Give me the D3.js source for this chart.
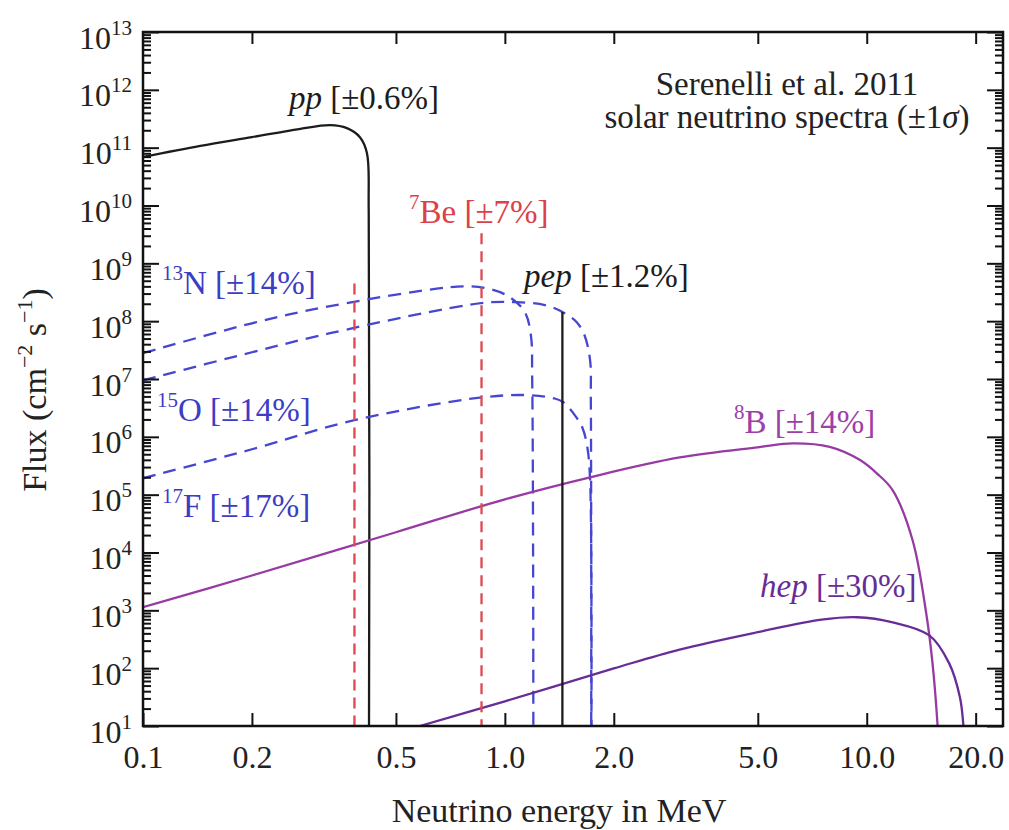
<!DOCTYPE html>
<html>
<head>
<meta charset="utf-8">
<script src="https://cdn.jsdelivr.net/npm/d3@7"></script>
<style>
body { margin: 0; background: #fff; }
text { font-family: 'Liberation Serif', 'DejaVu Serif', serif; }
</style>
</head>
<body>
<script>
'use strict'

// spectra: energy in MeV, flux in cm^-2 s^-1
const ppE = [0.1, 0.144, 0.2, 0.27, 0.329, 0.366, 0.3976, 0.4157, 0.4205, 0.421]
const ppF = [6.9e10, 1.07e11, 1.52e11, 2.1e11, 2.45e11, 2.18e11, 1.52e11, 8.1e10, 8e9, 1]

const n13E = [0.1, 0.2, 0.329, 0.766, 0.909, 1.032, 1.136, 1.18, 1.19, 1.199]
const n13F = [2.8e7, 9.2e7, 1.82e8, 4.0e8, 3.6e8, 2.6e8, 1.43e8, 5.7e7, 9.5e6, 1]

const o15E = [0.1, 0.2, 0.329, 0.86, 1.077, 1.29, 1.447, 1.58, 1.66, 1.72, 1.728, 1.732]
const o15F = [9.5e6, 2.9e7, 6.2e7, 2.05e8, 2.13e8, 1.9e8, 1.43e8, 9.6e7, 5.7e7, 2.1e7, 4.3e6, 1]

const f17E = [0.1, 0.2, 0.384, 0.862, 1.17, 1.374, 1.447, 1.56, 1.64, 1.69, 1.72, 1.733]
const f17F = [1.92e5, 6.1e5, 1.94e6, 4.8e6, 5.25e6, 4.6e6, 4.0e6, 2.37e6, 1.41e6, 6.6e5, 1.8e5, 1]

const b8E = [0.1, 0.2, 0.5, 1.0, 1.72, 3.04, 5.0, 6.25, 7.9, 9.56, 10.66, 11.8, 13.4, 14.6, 15.2, 15.7, 16.0]
const b8F = [1.13e3, 4.0e3, 2.24e4, 8.3e4, 2.0e5, 4.4e5, 6.6e5, 7.7e5, 6.7e5, 4.0e5, 2.34e5, 1.19e5, 1.6e4, 890, 121, 10, 1]

const hepE = [0.582, 1.0, 2.0, 3.04, 5.0, 7.5, 9.4, 11.8, 14.9, 16.9, 18.1, 18.5, 18.8]
const hepF = [10, 26.7, 99, 210, 420, 690, 760, 620, 369, 121, 31, 10, 1]

// line sources
const be7E = [0.384, 0.862]
const be7F = [4.5e8, 3.3e9]
const pepE = [1.442]
const pepF = [1.44e8]

const xTicks = [0.1, 0.2, 0.5, 1, 2, 5, 10, 20]
const yMajor = d3.range(1, 14).map(p => Math.pow(10, p))
const yMinor = d3.range(1, 13).flatMap(p => d3.range(2, 10).map(k => k * Math.pow(10, p)))

const width = 1009
const height = 830
const margin = {top: 32, right: 6, bottom: 104, left: 143}
const iw = width - margin.left - margin.right
const ih = height - margin.top - margin.bottom

const x = d3.scaleLog().domain([0.1, 23.8]).range([margin.left, margin.left + iw])
const y = d3.scaleLog().domain([10, 1e13]).range([margin.top + ih, margin.top])

const svg = d3.select('body').append('svg').attr('width', width).attr('height', height)

svg.append('defs').append('clipPath').attr('id', 'plot')
    .append('rect').attr('x', margin.left).attr('y', margin.top).attr('width', iw).attr('height', ih)

const zip = (a, b) => a.map((v, i) => [v, b[i]])
const line = d3.line().x(d => x(d[0])).y(d => y(d[1])).curve(d3.curveCatmullRom.alpha(0.5))

const plot = svg.append('g').attr('clip-path', 'url(#plot)')

const series = [
    {E: ppE, F: ppF, color: '#1c1c1c', dash: null},
    {E: n13E, F: n13F, color: '#4646d2', dash: '13,8'},
    {E: o15E, F: o15F, color: '#4646d2', dash: '13,8'},
    {E: f17E, F: f17F, color: '#4646d2', dash: '13,8'},
    {E: b8E, F: b8F, color: '#983aa4', dash: null},
    {E: hepE, F: hepF, color: '#682c96', dash: null}
]

plot.selectAll('path.spec').data(series).enter().append('path')
    .attr('class', 'spec')
    .attr('d', d => line(zip(d.E, d.F)))
    .attr('fill', 'none')
    .attr('stroke', d => d.color)
    .attr('stroke-width', 2.3)
    .attr('stroke-dasharray', d => d.dash)

const lines = [
    ...zip(be7E, be7F).map(d => ({e: d[0], f: d[1], color: '#e0474f', dash: '11,7'})),
    ...zip(pepE, pepF).map(d => ({e: d[0], f: d[1], color: '#1c1c1c', dash: null}))
]

plot.selectAll('line.mono').data(lines).enter().append('line')
    .attr('class', 'mono')
    .attr('x1', d => x(d.e)).attr('x2', d => x(d.e))
    .attr('y1', d => y(d.f)).attr('y2', y(10))
    .attr('stroke', d => d.color)
    .attr('stroke-width', 2.3)
    .attr('stroke-dasharray', d => d.dash)

// axes, ticks pointing inward
const styleAxis = g => {
    g.select('.domain').remove()
    g.selectAll('.tick line').attr('stroke', '#111').attr('stroke-width', 2)
}

svg.append('g').attr('transform', `translate(0,${margin.top + ih})`)
    .call(d3.axisBottom(x).tickValues(xTicks).tickSize(-13).tickPadding(19).tickFormat(d3.format('.1f')))
    .call(styleAxis)
    .call(g => g.selectAll('.tick text').attr('font-size', 32).attr('fill', '#222'))

svg.append('g').attr('transform', `translate(0,${margin.top})`)
    .call(d3.axisTop(x).tickValues(xTicks.slice(1)).tickSize(-12).tickFormat(''))
    .call(styleAxis)

const left = svg.append('g').attr('transform', `translate(${margin.left},0)`)
left.append('g').call(d3.axisLeft(y).tickValues(yMinor).tickSize(-8).tickFormat('')).call(styleAxis)
left.append('g').call(d3.axisLeft(y).tickValues(yMajor).tickSize(-16).tickPadding(11).tickFormat(''))
    .call(styleAxis)
    .call(g => g.selectAll('.tick text')
        .attr('fill', '#222').attr('font-size', 32).attr('dy', '0.5em')
        .each(function(d) {
            const t = d3.select(this)
            t.append('tspan').text('10')
            t.append('tspan').attr('font-size', 21).attr('dy', -14).text(Math.round(Math.log10(d)))
        }))

const right = svg.append('g').attr('transform', `translate(${margin.left + iw},0)`)
right.append('g').call(d3.axisRight(y).tickValues(yMinor).tickSize(-8).tickFormat('')).call(styleAxis)
right.append('g').call(d3.axisRight(y).tickValues(yMajor).tickSize(-16).tickFormat('')).call(styleAxis)

svg.append('rect')
    .attr('x', margin.left).attr('y', margin.top).attr('width', iw).attr('height', ih)
    .attr('fill', 'none').attr('stroke', '#111').attr('stroke-width', 2.5)

// axis titles
svg.append('text')
    .attr('x', margin.left + iw / 2 - 14).attr('y', 822)
    .attr('text-anchor', 'middle').attr('font-size', 34).attr('fill', '#222')
    .text('Neutrino energy in MeV')

const yt = svg.append('text')
    .attr('transform', 'translate(46,390) rotate(-90)')
    .attr('text-anchor', 'middle').attr('font-size', 34).attr('fill', '#222')
yt.append('tspan').text('Flux (cm')
yt.append('tspan').attr('font-size', 22).attr('dy', -14).text('−2')
yt.append('tspan').attr('dy', 14).text(' s')
yt.append('tspan').attr('font-size', 22).attr('dy', -14).text('−1')
yt.append('tspan').attr('dy', 14).text(')')

// annotations
const note = svg.append('g').attr('font-size', 33)

const pp = note.append('text').attr('x', 289).attr('y', 109).attr('fill', '#1c1c1c')
pp.append('tspan').attr('font-style', 'italic').text('pp')
pp.append('tspan').text(' [±0.6%]')

const pep = note.append('text').attr('x', 524).attr('y', 287).attr('fill', '#1c1c1c')
pep.append('tspan').attr('font-style', 'italic').text('pep')
pep.append('tspan').text(' [±1.2%]')

const hep = note.append('text').attr('x', 760).attr('y', 597).attr('fill', '#682c96')
hep.append('tspan').attr('font-style', 'italic').text('hep')
hep.append('tspan').text(' [±30%]')

const iso = [
    {sup: '7', rest: 'Be [±7%]', x: 409, y: 223, color: '#dc4049'},
    {sup: '13', rest: 'N [±14%]', x: 162, y: 294, color: '#3c3cc4'},
    {sup: '15', rest: 'O [±14%]', x: 157, y: 421, color: '#3c3cc4'},
    {sup: '17', rest: 'F [±17%]', x: 162, y: 517, color: '#3c3cc4'},
    {sup: '8', rest: 'B [±14%]', x: 734, y: 433, color: '#9c40a8'}
]
iso.forEach(d => {
    const t = note.append('text').attr('x', d.x).attr('y', d.y).attr('fill', d.color)
    t.append('tspan').attr('font-size', 21).attr('dy', -14).text(d.sup)
    t.append('tspan').attr('dy', 14).text(d.rest)
})

const src = note.append('text').attr('text-anchor', 'middle').attr('fill', '#222')
src.append('tspan').attr('x', 787).attr('y', 95).text('Serenelli et al. 2011')
src.append('tspan').attr('x', 787).attr('y', 128).text('solar neutrino spectra (±1')
    .append('tspan').attr('font-style', 'italic').text('σ')
src.select('tspan:nth-child(2)').append('tspan').text(')')
</script>
</body>
</html>
